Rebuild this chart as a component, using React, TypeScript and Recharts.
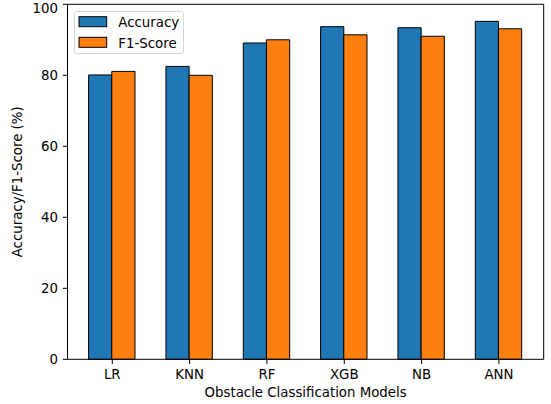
import React from 'react';
import { BarChart, Bar, XAxis, YAxis, Legend, Label } from 'recharts';

const categories = ['LR', 'KNN', 'RF', 'XGB', 'NB', 'ANN'];
const accuracy = [80.1, 82.5, 89.1, 93.7, 93.4, 95.2];
const f1Score = [81.1, 80.0, 90.0, 91.4, 91.0, 93.1];
const yTicks = [0, 20, 40, 60, 80, 100];

const FONT = '"DejaVu Sans", sans-serif';
const FS = 13.33;

const data = categories.map((name, i) => ({ name, accuracy: accuracy[i], f1: f1Score[i] }));

// matplotlib-style legend frame
const LegendBox: React.FC<any> = ({ payload }) => (
  <svg width={110} height={43} style={{ display: 'block' }}>
    <rect x={0.5} y={0.5} width={109} height={42} rx={2.5} fill="rgba(255,255,255,0.8)" stroke="#d5d5d5" />
    {(payload || []).map((p: any, i: number) => (
      <g key={p.value}>
        <rect x={5} y={5.7 + i * 20.6} width={27.7} height={10} fill={p.color} stroke="#000" strokeWidth={1} />
        <text x={44.3} y={16.3 + i * 20.6} fontFamily={FONT} fontSize={FS} fill="#000">
          {p.value}
        </text>
      </g>
    ))}
  </svg>
);

const YLabel: React.FC<any> = () => (
  <text
    x={0}
    y={0}
    transform="translate(21.5,181.8) rotate(-90)"
    textAnchor="middle"
    fontFamily={FONT}
    fontSize={FS}
    fill="#000"
  >
    Accuracy/F1-Score (%)
  </text>
);

export default function App() {
  return (
    <div style={{ position: 'absolute', left: 0, top: 0, width: 551, height: 404, background: '#fff' }}>
      <BarChart
        width={551}
        height={404}
        data={data}
        margin={{ top: 3.3, right: 6.3, left: 0, bottom: 0 }}
        barGap={0}
        style={{ overflow: 'visible' }}
      >
        <XAxis
          dataKey="name"
          height={44.7}
          padding={{ left: 6.1, right: 6.1 }}
          stroke="#000"
          tickSize={4.7}
          tickMargin={5.5}
          tick={{ fill: '#000', fontFamily: FONT, fontSize: FS }}
          interval={0}
        >
          <Label
            value="Obstacle Classification Models"
            position="insideBottom"
            offset={7.3}
            style={{ fill: '#000', fontFamily: FONT, fontSize: FS }}
          />
        </XAxis>
        <XAxis xAxisId="top" dataKey="name" orientation="top" height={1} tick={false} tickLine={false} stroke="#000" />
        <YAxis
          width={67.5}
          domain={[0, 100]}
          ticks={yTicks}
          stroke="#000"
          tickSize={4.7}
          tickMargin={4.8}
          tick={{ fill: '#000', fontFamily: FONT, fontSize: FS }}
          label={<YLabel />}
        />
        <YAxis yAxisId="right" orientation="right" width={1} domain={[0, 100]} tick={false} tickLine={false} stroke="#000" />
        <Legend
          layout="vertical"
          align="center"
          verticalAlign="middle"
          content={<LegendBox />}
          wrapperStyle={{ left: 74, top: 11, width: 110, height: 43 }}
        />
        <Bar dataKey="accuracy" name="Accuracy" fill="#1f77b4" stroke="#000" strokeWidth={1} barSize={23.2} isAnimationActive={false} />
        <Bar dataKey="f1" name="F1-Score" fill="#ff7f0e" stroke="#000" strokeWidth={1} barSize={23.2} isAnimationActive={false} />
      </BarChart>
    </div>
  );
}
